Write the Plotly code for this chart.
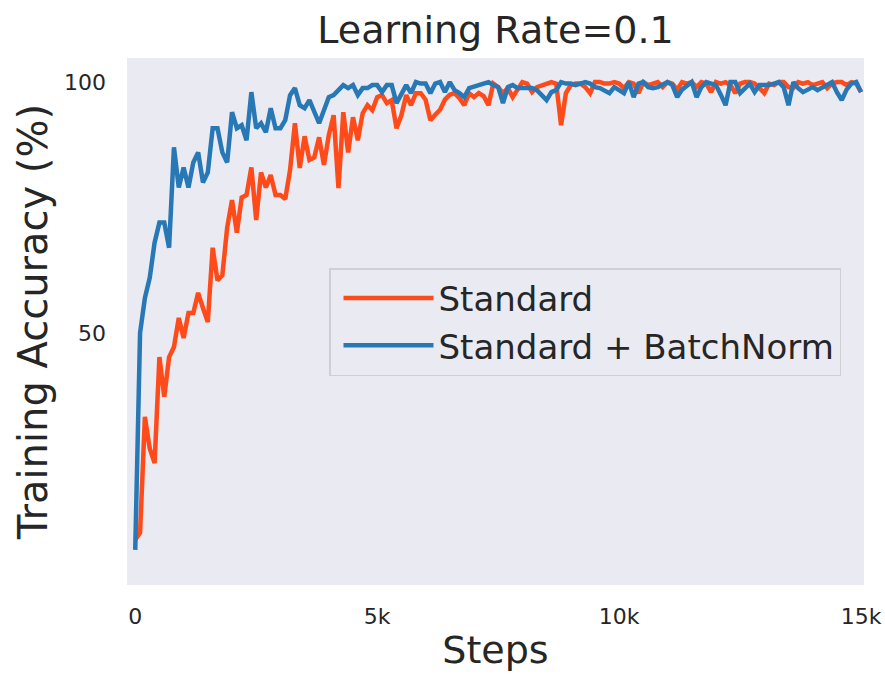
import plotly.graph_objects as go

steps = [i * 100 for i in range(151)]

standard = [
    8.8, 10.2, 33.3, 27, 24.1, 45.2, 37.3, 45.2, 47.2, 53,
    49, 54, 54, 58, 55, 52.2, 67, 60.5, 61.5, 71,
    76.5, 70, 77, 77.5, 83, 72.5, 82, 79, 81.5, 77.5,
    77.5, 76.7, 82.5, 91.8, 82.9, 89.2, 84.5, 85, 89, 83.5,
    89.4, 93.4, 78.9, 94, 86, 93, 88.4, 93.8, 95.4, 94.4,
    97, 97.4, 95.8, 96.4, 90.8, 93.4, 97.4, 95.4, 97.8, 97.8,
    96.5, 92.4, 93.5, 94.5, 96.5, 97.5, 97.8, 96.8, 95.4, 97.8,
    97, 97.8, 97.2, 95.4, 99.7, 99, 97.8, 98.8, 97, 98.5,
    100, 99.7, 98, 99, 99.4, 99.7, 100, 99.7, 91.4, 97.8,
    99.4, 99.7, 99.7, 99, 97.8, 100, 100, 99.7, 99.7, 100,
    99.7, 98.8, 100, 99.7, 97.8, 100, 99.4, 99.7, 100, 99,
    100, 99.7, 98.5, 100, 99.7, 100, 99, 100, 99.7, 98,
    100, 99.7, 100, 99.4, 97.8, 99.7, 100, 100, 99.7, 98.8,
    97.8, 99.7, 99.4, 100, 100, 99, 98.8, 100, 99.7, 100,
    99.4, 99.7, 100, 98.8, 99.7, 100, 100, 99.4, 100, 99.7,
    98,
]

batchnorm = [
    6.8, 50, 57, 61, 68, 72, 72, 67, 87, 79,
    83, 79, 84, 86, 80, 82, 90.8, 90.8, 86, 84,
    94, 90.8, 91.4, 88.4, 98, 90.8, 91.8, 90, 94.8, 90.8,
    90.8, 92.4, 97.4, 98.8, 95.4, 94.8, 96.4, 93.8, 91.8, 94.4,
    97, 97.4, 98.4, 99.4, 98.8, 99.4, 97.4, 98.8, 98.8, 99.4,
    99.4, 98, 99.4, 99.4, 95.8, 97.8, 99.4, 97.8, 100, 99.7,
    99.7, 97.8, 99.7, 100, 98, 100, 98.4, 97.8, 97, 98.8,
    99, 99.4, 99.7, 100, 99.4, 99, 95.8, 99, 99.4, 98.8,
    98.8, 98.8, 98.8, 98.4, 97.5, 96.4, 98, 98.4, 100, 99.7,
    99.7, 99.4, 99.7, 100, 99.7, 99, 98.8, 98.4, 97.8, 99,
    98.4, 97.8, 100, 97, 99.7, 100, 99, 98.8, 99, 99.4,
    100, 99.4, 97, 98.5, 99.4, 100, 97, 99, 100, 99.7,
    99.4, 97.5, 95.4, 100, 100, 97.8, 98.8, 99.7, 98, 99.4,
    99.4, 99.4, 99.7, 100, 99, 95.4, 100, 98.8, 98, 98.5,
    99, 98.4, 99, 99.4, 100, 98, 96.4, 98.5, 99.7, 100,
    98,
]

series_names = ["Standard", "Standard + BatchNorm"]
x_tickvals = [0, 5000, 10000, 15000]
x_ticktext = ["0", "5k", "10k", "15k"]
y_tickvals = [50, 100]
y_ticktext = ["50", "100"]

FONT = "DejaVu Sans"
TXT = "#262626"

fig = go.Figure()
fig.add_trace(go.Scatter(x=steps, y=standard, mode="lines", name=series_names[0],
                         line=dict(color="#FF4A1A", width=4.5)))
fig.add_trace(go.Scatter(x=steps, y=batchnorm, mode="lines", name=series_names[1],
                         line=dict(color="#2878B5", width=4.5)))

fig.update_layout(
    width=885, height=674,
    margin=dict(l=127, r=21, t=58, b=89),
    paper_bgcolor="white",
    plot_bgcolor="#EAEAF2",
    font=dict(family=FONT, color=TXT),
    title=dict(text="Learning Rate=0.1", x=0.5, xref="paper", y=1 - 30 / 674,
               yref="container", yanchor="middle", xanchor="center",
               font=dict(size=38, color=TXT, family=FONT)),
    xaxis=dict(range=[-170, 15060], tickvals=x_tickvals, ticktext=x_ticktext,
               showgrid=False, zeroline=False, showline=False, ticks="", automargin=False,
               ticklabelstandoff=16, tickfont=dict(size=22, color=TXT),
               title=dict(text="Steps", font=dict(size=38, color=TXT), standoff=8)),
    yaxis=dict(range=[-0.2, 104.8], tickvals=y_tickvals, ticktext=y_ticktext,
               showgrid=False, zeroline=False, showline=False, ticks="", automargin=False,
               ticklabelstandoff=20, tickfont=dict(size=22, color=TXT),
               title=dict(text="Training Accuracy (%)", font=dict(size=40, color=TXT), standoff=4)),
    legend=dict(x=(329 - 127) / 737, y=(585 - 268) / 527, xanchor="left", yanchor="top",
                bgcolor="#EAEAF2", bordercolor="#CFCFD6", borderwidth=1.5,
                font=dict(size=34, color=TXT, family=FONT), itemwidth=90, indentation=8),
    showlegend=True,
)

fig.write_html(
    "out.html",
    config={"displayModeBar": False},
    post_script=(
        "document.body.style.margin='0';document.body.style.padding='0';"
        "document.body.style.overflow='hidden';"
        "document.documentElement.style.overflow='hidden';"
    ),
)
